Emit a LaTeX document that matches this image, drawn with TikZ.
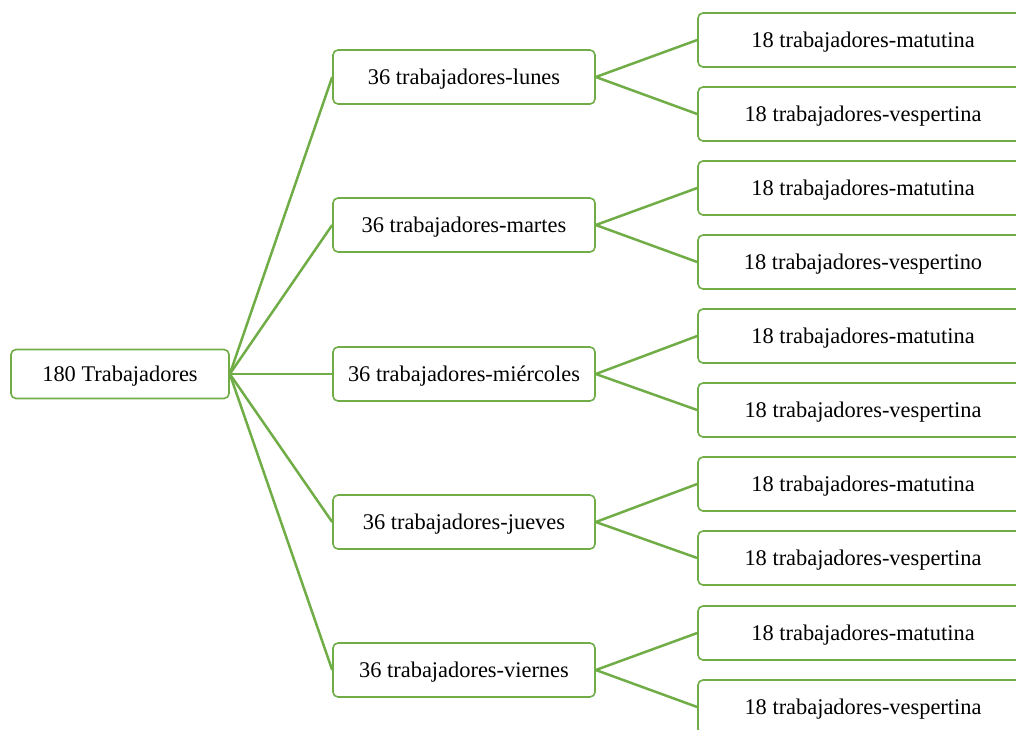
\documentclass[tikz,border=0pt]{standalone}
\usepackage{fontspec}
\setmainfont{Liberation Serif}
\usepackage{tikz}
\definecolor{ramaverde}{HTML}{70AD47}
\tikzset{
  caja/.style={draw=ramaverde, line width=0.8pt, rounded corners=2.5pt, fill=white,
    font=\fontsize{11.2}{13.4}\selectfont, inner sep=0pt, text depth=0pt},
  raiz/.style={caja, minimum width=109pt, minimum height=24.5pt},
  dia/.style={caja, minimum width=131pt, minimum height=27pt},
  turno/.style={caja, minimum width=165pt, minimum height=27pt},
  rama/.style={draw=ramaverde, line width=1.25pt}
}

\begin{document}
\begin{tikzpicture}[x=0.5pt, y=-0.5pt]
  \useasboundingbox (0,0) rectangle (1016,729);
  \clip (0,0) rectangle (1016,729);
  \node[raiz] (tot) at (120,374) {180 Trabajadores};
  \node[dia] (lun) at (464,77) {36 trabajadores-lunes};
  \node[dia] (mar) at (464,225) {36 trabajadores-martes};
  \node[dia] (mie) at (464,374) {36 trabajadores-miércoles};
  \node[dia] (jue) at (464,522) {36 trabajadores-jueves};
  \node[dia] (vie) at (464,670) {36 trabajadores-viernes};
  \node[turno] (lunm) at (863,40) {18 trabajadores-matutina};
  \node[turno] (lunv) at (863,114) {18 trabajadores-vespertina};
  \node[turno] (marm) at (863,188) {18 trabajadores-matutina};
  \node[turno] (marv) at (863,262) {18 trabajadores-vespertino};
  \node[turno] (miem) at (863,336) {18 trabajadores-matutina};
  \node[turno] (miev) at (863,410) {18 trabajadores-vespertina};
  \node[turno] (juem) at (863,484) {18 trabajadores-matutina};
  \node[turno] (juev) at (863,558) {18 trabajadores-vespertina};
  \node[turno] (viem) at (863,633) {18 trabajadores-matutina};
  \node[turno] (viev) at (863,707) {18 trabajadores-vespertina};
  \draw[rama] (tot.east) -- (lun.west);
  \draw[rama] (tot.east) -- (mar.west);
  \draw[rama] (tot.east) -- (mie.west);
  \draw[rama] (tot.east) -- (jue.west);
  \draw[rama] (tot.east) -- (vie.west);
  \draw[rama] (lun.east) -- (lunm.west);
  \draw[rama] (lun.east) -- (lunv.west);
  \draw[rama] (mar.east) -- (marm.west);
  \draw[rama] (mar.east) -- (marv.west);
  \draw[rama] (mie.east) -- (miem.west);
  \draw[rama] (mie.east) -- (miev.west);
  \draw[rama] (jue.east) -- (juem.west);
  \draw[rama] (jue.east) -- (juev.west);
  \draw[rama] (vie.east) -- (viem.west);
  \draw[rama] (vie.east) -- (viev.west);
\end{tikzpicture}
\end{document}
